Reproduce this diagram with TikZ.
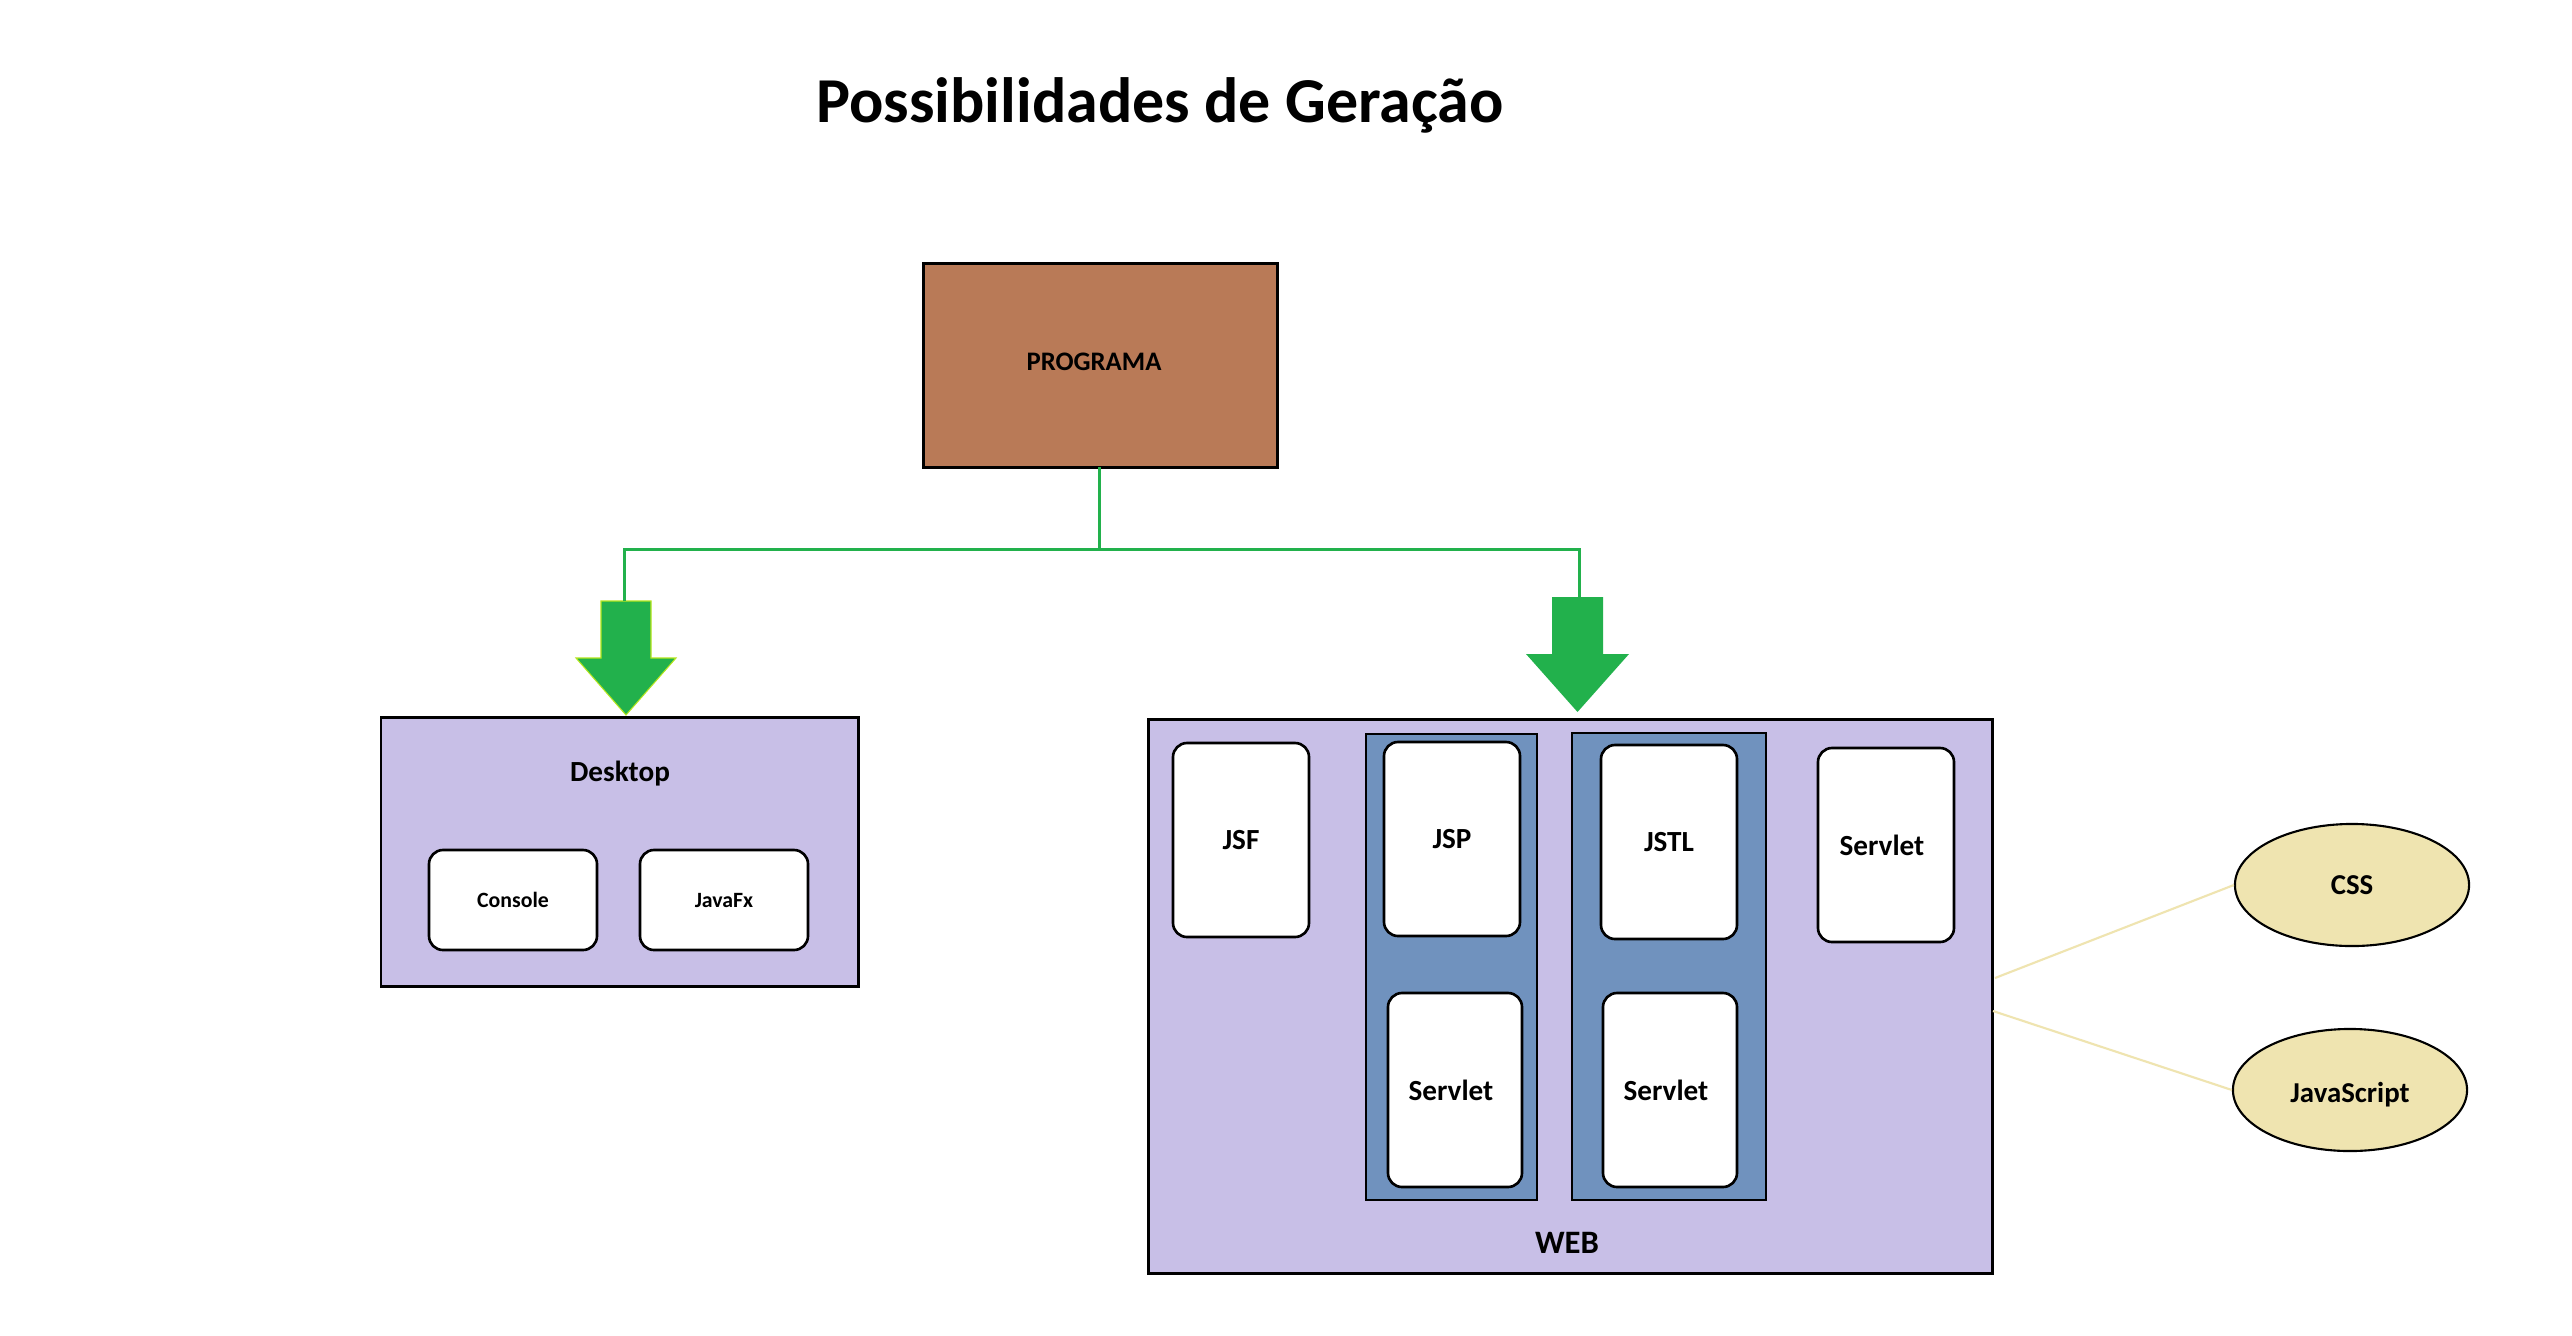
\documentclass[tikz,border=0pt]{standalone}
\usepackage{fontspec}
\setmainfont{Carlito}
\usetikzlibrary{fit,shapes.geometric}
\definecolor{brownP}{HTML}{B97A57}
\definecolor{lav}{HTML}{C8BFE7}
\definecolor{steel}{HTML}{7092BE}
\definecolor{grn}{HTML}{22B14C}
\definecolor{limeP}{HTML}{B5E61D}
\definecolor{cream}{HTML}{EFE4B0}
\tikzset{
  frame/.style={draw=black, line width=0.85pt, inner sep=0pt},
  progbox/.style={frame, fill=brownP},
  groupbox/.style={frame, fill=lav},
  column/.style={draw=black, line width=0.3pt, fill=steel, inner sep=0pt},
  card/.style={draw=black, fill=white, line width=0.75pt, rounded corners=0.14cm, inner sep=0pt},
  cardtext/.style={inner sep=0pt, font=\bfseries\fontsize{8.3}{10}\selectfont},
  srvtext/.style={cardtext, xshift=-0.04cm},
  smalltext/.style={inner sep=0pt, font=\bfseries\fontsize{6.2}{8}\selectfont},
  bubble/.style={ellipse, draw=black, fill=cream, line width=0.6pt, inner sep=0pt, minimum width=2.34cm, minimum height=1.22cm},
  bubtext/.style={inner sep=0pt, font=\bfseries\fontsize{8.2}{10}\selectfont},
  label text/.style={font=\bfseries\fontsize{8.3}{10}\selectfont, inner sep=0pt},
  feed/.style={draw=grn, line width=0.85pt},
  bigarrow/.style={fill=grn},
  tie/.style={draw=cream, line width=0.6pt}
}
\begin{document}
\begin{tikzpicture}[x=0.01cm, y=-0.01cm]
\useasboundingbox (0,0) rectangle (2572,1336);
\fill[white] (0,0) rectangle (2572,1336);

% title
\node[font=\bfseries\fontsize{18.2}{21}\selectfont, anchor=base, inner sep=0pt] (title) at (1160,122) {Possibilidades de Geração};

% program
\node[progbox, fit={(923,263) (1277,467)}] (prog) {};
\node[font=\bfseries\fontsize{7.6}{9}\selectfont, inner sep=0pt] (progtxt) at (1094,362) {PROGRAMA};

% big arrows
\path[bigarrow, draw=limeP, line width=0.3pt] (601,601) -- (651,601) -- (651,658) -- (676,658) -- (626,715) -- (576,658) -- (601,658) -- cycle;
\path[bigarrow] (1552,597) -- (1603,597) -- (1603,654) -- (1629,654) -- (1577.5,712) -- (1526,654) -- (1552,654) -- cycle;
\coordinate (ltop) at (624,601);
\coordinate (rtop) at (1579,597);
\coordinate (split) at (1099,549);

\draw[feed] (1099,467) -- (split) -| (ltop);
\draw[feed] (split) -| (rtop);

% desktop
\node[groupbox, fit={(381,717) (858,986)}] (desk) {};
\node[label text] (desktxt) at (620,774) {Desktop};
\node[card, fit={(429,850) (597,950)}, label={[smalltext]center:Console}] (console) {};
\node[card, fit={(640,850) (808,950)}, label={[smalltext]center:JavaFx}] (javafx) {};

% web
\node[groupbox, fit={(1148,719) (1992,1273)}] (web) {};
\node[font=\bfseries\fontsize{9.3}{11}\selectfont, inner sep=0pt] (webtxt) at (1567,1243) {WEB};
\node[column, fit={(1366,734) (1537,1200)}] (col1) {};
\node[column, fit={(1572,733) (1766,1200)}] (col2) {};
\node[card, fit={(1173,743) (1309,937)}, label={[cardtext]center:JSF}] (jsf) {};
\node[card, fit={(1384,742) (1520,936)}, label={[cardtext]center:JSP}] (jsp) {};
\node[card, fit={(1388,993) (1522,1187)}, label={[srvtext]center:Servlet}] (srv1) {};
\node[card, fit={(1601,745) (1737,939)}, label={[cardtext]center:JSTL}] (jstl) {};
\node[card, fit={(1603,993) (1737,1187)}, label={[srvtext]center:Servlet}] (srv2) {};
\node[card, fit={(1818,748) (1954,942)}, label={[srvtext]center:Servlet}] (srv3) {};

% css / js
\node[bubble, label={[bubtext]center:CSS}] (css) at (2352,885) {};
\node[bubble, label={[bubtext, yshift=-0.05cm]center:JavaScript}] (js) at (2350,1090) {};
\coordinate (w1) at (1995,978);
\coordinate (w2) at (1993,1011);
\draw[tie] (w1) -- (css.west);
\draw[tie] (w2) -- (js.west);
\end{tikzpicture}
\end{document}
